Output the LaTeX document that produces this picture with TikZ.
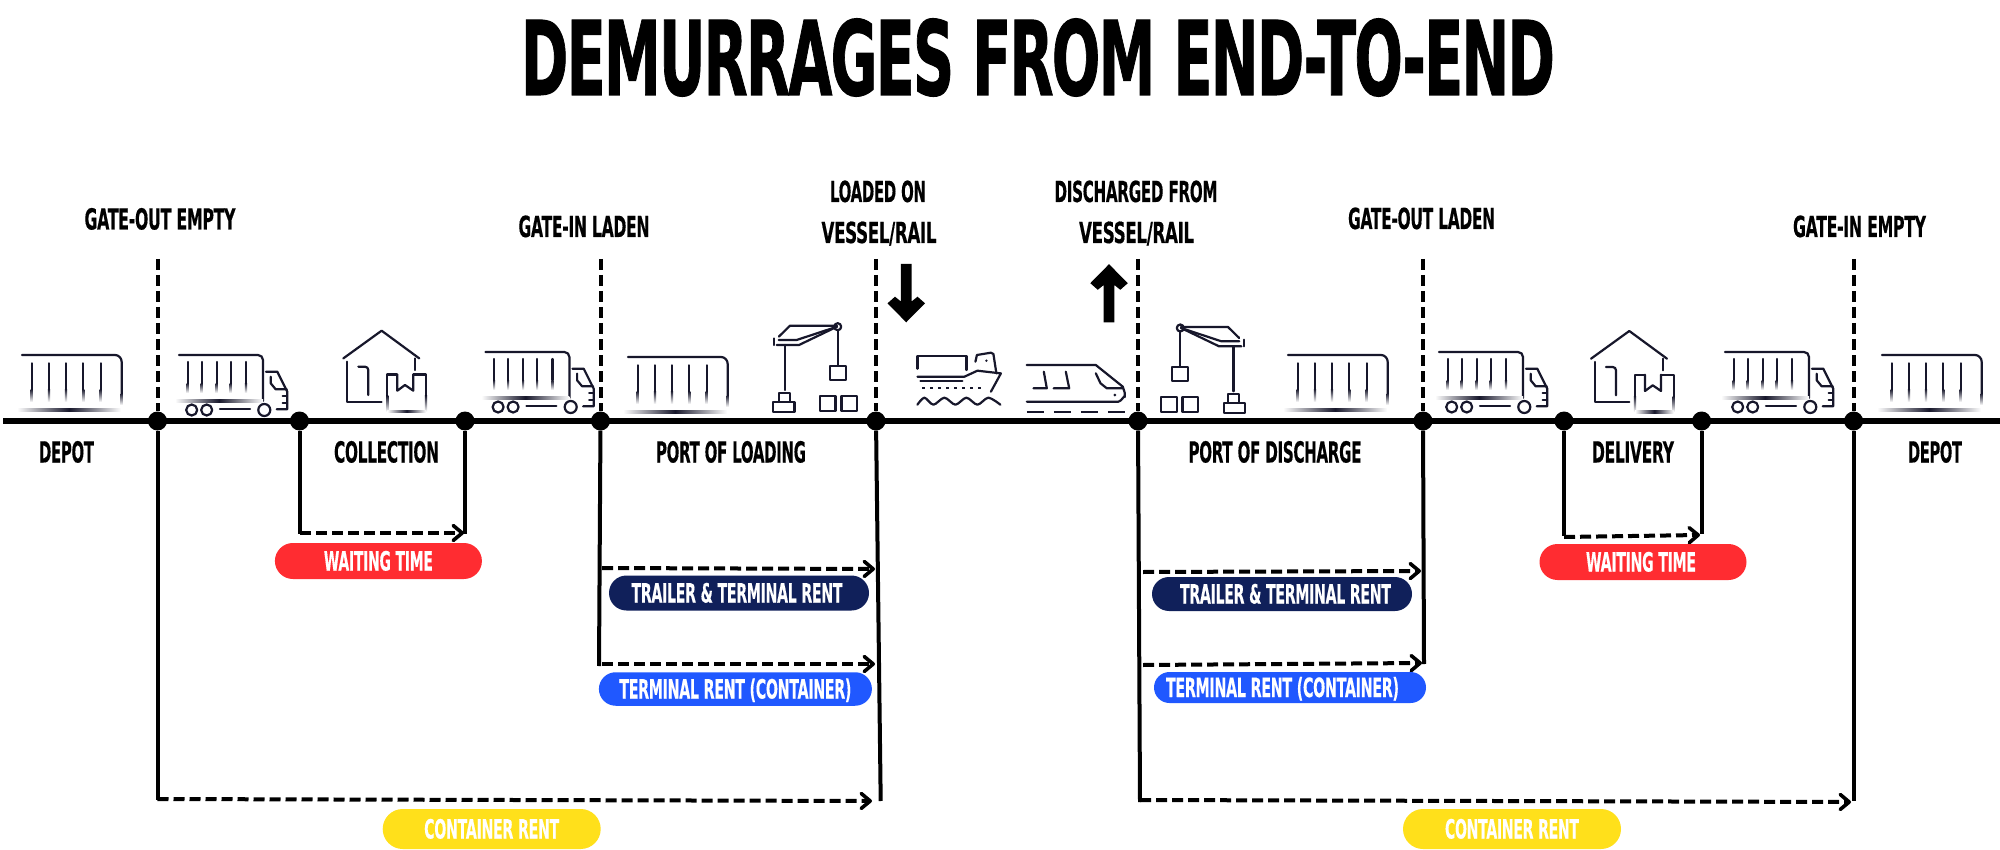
\documentclass[tikz,border=0pt]{standalone}
\usepackage{fontspec}
\usepackage{graphicx}
\usetikzlibrary{arrows.meta,shapes.misc}
\newfontfamily\titlefont[FakeBold=1.2,LetterSpace=-3]{DejaVu Sans Bold}
\newfontfamily\labelfont[FakeBold=0.5,LetterSpace=-2]{DejaVu Sans Bold}
\definecolor{ink}{HTML}{17172B}
\definecolor{alertred}{HTML}{FF2C31}
\definecolor{navyblue}{HTML}{10205A}
\definecolor{brightblue}{HTML}{2058FF}
\definecolor{sunyellow}{HTML}{FFE01B}
% fixed-width text, natural height
\newcommand\fitted[2]{\resizebox{#1pt}{\height}{#2}}
% lines that fade out into the paper
\newcommand\vfade[3]{\shade[top color=ink,bottom color=white] (#1-1.1,#2) rectangle (#1+1.1,#3);}
\newcommand\hfade[3]{\shade[left color=white,right color=white,middle color=ink] (#1,#3-1.1) rectangle (#2,#3+1.1);}
\tikzset{
  x=1pt,y=-1pt,
  rail/.style={line width=6pt,black},
  solidline/.style={line width=4pt,black},
  dashline/.style={line width=4pt,black,dash pattern=on 11pt off 5pt},
  flow/.style={dashline,-{Straight Barb[length=9pt,width=15pt,line width=3.6pt,round]}},
  stop/.style={circle,fill=black,minimum size=19pt,inner sep=0pt},
  lab/.style={anchor=base,inner sep=0pt,font=\labelfont\fontsize{29}{30}\selectfont,text=black},
  pill/.style={rounded rectangle,inner sep=0pt,text=white,text height=19pt,text depth=0pt,
    font=\labelfont\fontsize{26.5}{28}\selectfont},
  icon/.style={draw=ink,line width=2.2pt,line cap=round,line join=round},
  blockarrow/.style={fill=black},
  containerpic/.pic={
    \draw[icon] (0,0) ++(5,0) -- (98,0) to[out=0,in=90] (104.7,7) -- (104.7,38);
    \vfade{104.7}{38}{50}
    \hfade{0}{104}{55}
    \foreach \bx in {14.7,32,49,66.3,83.7}{
      \draw[icon] (\bx,8.3) -- (\bx,34);
      \vfade{\bx}{34}{47}
    }
  },
  truckpic/.pic={
    \draw[icon] (4,0) -- (83,0) to[out=0,in=90] (88,5) -- (88,46);
    \hfade{0}{88}{46}
    \foreach \bx in {12.7,26.7,41.7,55.7,71}{
      \draw[icon] (\bx,7) -- (\bx,28);
      \vfade{\bx}{28}{38}
    }
    \draw[icon] (91,16.7) -- (102.3,16.7) -- (112.3,36.7) -- (112.3,54.3) -- (101.7,54.3);
    \draw[icon] (95.7,21.7) -- (95.7,28.3) -- (100.7,34.3) -- (111.7,34.3);
    \draw[icon] (107.7,41) -- (112,41) (107.7,48) -- (112,48);
    \draw[icon] (16.7,55) circle (5.5) (31.7,55) circle (5.5) (89.3,55) circle (6);
    \draw[icon] (45,54.3) -- (75,54.3);
  },
  housepic/.pic={
    \draw[icon] (0,27.7) -- (38.3,0) -- (76,27.7);
    \draw[icon] (4,31) -- (4,71) -- (38.3,71);
    \draw[icon] (15,36) -- (21.7,36) to[out=0,in=90] (25,39.3) -- (25,64.3);
    \draw[icon] (71.7,27.7) -- (71.7,39.3);
    \draw[icon] (44,65) -- (44,43.7) -- (53.3,43.7);
    \draw[icon] (70,43.7) -- (82.7,43.7) -- (82.7,65);
    \vfade{44}{65}{81}
    \vfade{82.7}{65}{81}
    \hfade{44}{82.7}{81}
    \draw[icon] (54,43.7) -- (54,60) -- (61.7,54.3) -- (70,60) -- (70,43.7);
  },
  cranepic/.pic={
    \draw[icon] (5.8,11) -- (17,0) -- (64,0);
    \draw[icon] (1.3,12.7) -- (1.3,19.3);
    \draw[icon] (5.8,14.3) -- (23.6,14.3) -- (64,1);
    \draw[icon] (3.6,19.3) -- (26,19.3) -- (64,1);
    \draw[icon] (64.7,1) circle (3.5);
    \draw[icon] (11.6,19.3) -- (11.6,64.3);
    \draw[icon] (5.8,75) -- (5.8,67) -- (17,67) -- (17,75);
    \draw[icon] (0,76) rectangle (21.4,86);
    \draw[icon] (64.7,4.5) -- (64.7,39.3);
    \draw[icon] (57,40) rectangle (73,54.3);
    \draw[icon] (47,70.3) rectangle (62.5,85);
    \draw[icon] (68.4,70.3) rectangle (84,85);
  },
  shippic/.pic={
    \draw[icon] (0,16) -- (0,3.3) -- (49,3.3) -- (49,17.3);
    \draw[icon] (58,9) -- (59.5,2.3) -- (73.5,0) -- (76,1.3) -- (79,20.7);
    \fill[ink] (69,8) circle (1.3);
    \draw[icon] (0,24) -- (47,24) -- (60,18) -- (83.5,20.7) -- (73.5,39);
    \draw[icon] (3,28) -- (45,28);
    \draw[icon,line cap=butt,dash pattern=on 3pt off 5pt] (5,35) -- (64,35);
    \draw[icon] plot[smooth] coordinates {(0,52) (7,45) (16,52) (27,45) (38,52) (49,45) (60,52) (71,45) (83,52)};
  },
  trainpic/.pic={
    \draw[icon] (0,0) -- (69,0) -- (96,21.7) -- (98,28) -- (98,32) to[out=90,in=0] (91.5,36.7) -- (0,36.7);
    \draw[icon] (6.7,23.3) -- (20,23.3) -- (17,6.7);
    \draw[icon] (26.8,23.3) -- (42.4,23.3) -- (39,6.7);
    \draw[icon] (69,8.3) -- (73.7,18.3) -- (80,23.3) -- (96,23.3);
    \fill[ink] (88,30) circle (1.5);
    \draw[icon,line cap=butt,dash pattern=on 17pt off 10pt] (0,46.7) -- (98,46.7);
  }
}
\begin{document}
\begin{tikzpicture}
\useasboundingbox (0,0) rectangle (2000,850);
\fill[white] (0,0) rectangle (2000,850);

% title
\node[anchor=base,inner sep=0pt,font=\titlefont\fontsize{103}{108}\selectfont] (title) at (1038,95)
  {\fitted{1034}{DEMURRAGES FROM END-TO-END}};

% time line and its milestones
\coordinate (railL) at (3,421);
\coordinate (railR) at (2000,421);
\draw[rail] (railL) -- (railR);
\foreach \nm/\px in {a/157.5,b/299.5,c/465,d/600.5,e/876,f/1138,g/1423,h/1564,i/1701.6,j/1853.6}{
  \node[stop] (\nm) at (\px,421) {};
}

% dashed gate markers above the rail
\coordinate (ta) at (157.5,259); \coordinate (td) at (600.5,259); \coordinate (te) at (876,259);
\coordinate (tf) at (1138,259); \coordinate (tg) at (1423,259); \coordinate (tj) at (1853.6,259);
\foreach \nm in {a,d,e,f,g,j}{ \draw[dashline] (t\nm) -- (\nm); }

% drops below the rail
\coordinate (ba) at (157.5,800); \coordinate (bb) at (299.5,534); \coordinate (bc) at (465,534);
\coordinate (bd) at (599,666); \coordinate (be) at (880.7,801); \coordinate (bf) at (1140,802);
\coordinate (bg) at (1424,664); \coordinate (bh) at (1564,536); \coordinate (bi) at (1701.6,534);
\coordinate (bj) at (1853.6,801);
\foreach \nm in {a,b,c,d,e,f,g,h,i,j}{ \draw[solidline] (\nm) -- (b\nm); }

% charged periods
\coordinate (p1s) at (300,533); \coordinate (p1e) at (464,533);
\coordinate (p2s) at (602,568); \coordinate (p2e) at (875,569);
\coordinate (p3s) at (602,664); \coordinate (p3e) at (875,664);
\coordinate (p4s) at (157.5,799); \coordinate (p4e) at (872,801);
\coordinate (p5s) at (1143,572); \coordinate (p5e) at (1421,571);
\coordinate (p6s) at (1143,665); \coordinate (p6e) at (1422,663);
\coordinate (p7s) at (1564,537); \coordinate (p7e) at (1700,535);
\coordinate (p8s) at (1140,800); \coordinate (p8e) at (1851,802);
\foreach \n in {1,...,8}{ \draw[flow] (p\n s) -- (p\n e); }

% cost labels
\node[pill,fill=alertred,minimum width=207pt,minimum height=36pt] (wait1) at (378.4,561) {\fitted{109}{WAITING TIME}};
\node[pill,fill=navyblue,minimum width=260pt,minimum height=35pt] (trail1) at (739,593) {\fitted{211}{TRAILER \& TERMINAL RENT}\hspace*{4pt}};
\node[pill,fill=brightblue,minimum width=273pt,minimum height=33.5pt] (term1) at (735.4,689) {\fitted{232}{TERMINAL RENT (CONTAINER)}};
\node[pill,fill=sunyellow,minimum width=218pt,minimum height=40pt] (cont1) at (491.7,829) {\fitted{135}{CONTAINER RENT}};
\node[pill,fill=navyblue,minimum width=260pt,minimum height=34pt] (trail2) at (1282,594) {\hspace*{7pt}\fitted{211}{TRAILER \& TERMINAL RENT}};
\node[pill,fill=brightblue,minimum width=272pt,minimum height=31pt] (term2) at (1290,687.5) {\fitted{233}{TERMINAL RENT (CONTAINER)}\hspace*{15pt}};
\node[pill,fill=alertred,minimum width=207pt,minimum height=36pt] (wait2) at (1643,562) {\fitted{110}{WAITING TIME}\hspace*{4pt}};
\node[pill,fill=sunyellow,minimum width=218pt,minimum height=40pt] (cont2) at (1512,829) {\fitted{134}{CONTAINER RENT}};

% milestone labels
\node[lab] (l1) at (160,229.5) {\fitted{151}{GATE-OUT EMPTY}};
\node[lab] (l2) at (584,237) {\fitted{131}{GATE-IN LADEN}};
\node[lab] (l3) at (878,202) {\fitted{96}{LOADED ON}};
\node[lab] (l4) at (879,243) {\fitted{115}{VESSEL/RAIL}};
\node[lab] (l5) at (1136,202) {\fitted{163}{DISCHARGED FROM}};
\node[lab] (l6) at (1136.6,243) {\fitted{115}{VESSEL/RAIL}};
\node[lab] (l7) at (1421.6,229) {\fitted{147}{GATE-OUT LADEN}};
\node[lab] (l8) at (1859.5,237) {\fitted{133}{GATE-IN EMPTY}};

% stage labels
\node[lab] (s1) at (66.5,462.5) {\fitted{55}{DEPOT}};
\node[lab] (s2) at (386.5,462.5) {\fitted{105}{COLLECTION}};
\node[lab] (s3) at (731,462.5) {\fitted{150}{PORT OF LOADING}};
\node[lab] (s4) at (1275,462.5) {\fitted{173}{PORT OF DISCHARGE}};
\node[lab] (s5) at (1633,462.5) {\fitted{82}{DELIVERY}};
\node[lab] (s6) at (1935,462.5) {\fitted{54}{DEPOT}};

% load and discharge direction arrows
\fill[blockarrow] (900.9,264) -- (911.5,264) -- (911.5,301.5) -- (917.5,296.7) -- (925,303.3)
  -- (906.2,322.3) -- (887.5,303.3) -- (895,296.7) -- (900.9,301.5) -- cycle;
\fill[blockarrow] (1103.7,322.5) -- (1114.3,322.5) -- (1114.3,285) -- (1120.3,289.8) -- (1127.8,283.2)
  -- (1109,264.2) -- (1090.3,283.2) -- (1097.8,289.8) -- (1103.7,285) -- cycle;

% pictograms along the rail
\pic at (17,355) {containerpic};
\pic at (623,357) {containerpic};
\pic at (1283,355) {containerpic};
\pic at (1877,355) {containerpic};
\pic at (175,355) {truckpic};
\pic at (481.4,352) {truckpic};
\pic at (1435,352) {truckpic};
\pic at (1721,352) {truckpic};
\pic at (343.3,330.7) {housepic};
\pic at (1591,331) {housepic};
\pic at (773,325.7) {cranepic};
\pic[xscale=-1] at (1245,327) {cranepic};
\pic at (917.4,352.7) {shippic};
\pic at (1026.8,365) {trainpic};
\end{tikzpicture}
\end{document}
